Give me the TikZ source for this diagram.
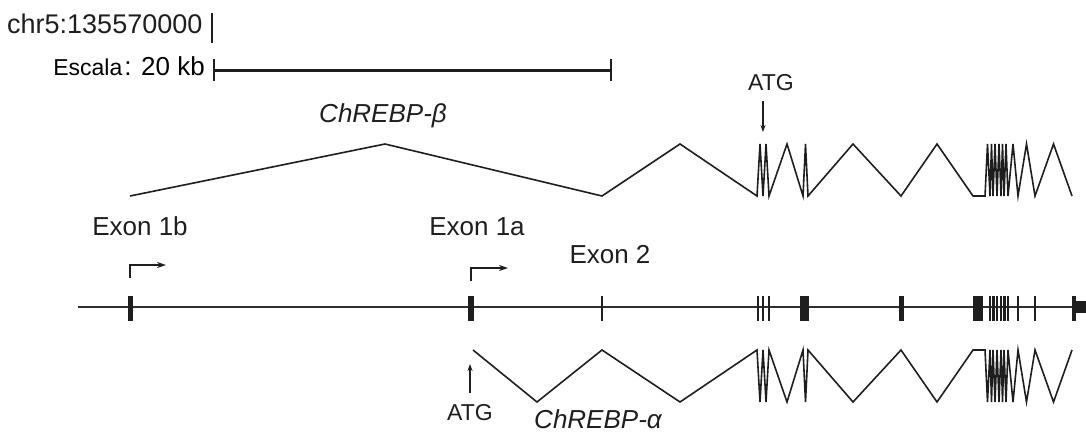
\documentclass[tikz,border=0pt]{standalone}
\usepackage{fontspec}
\setmainfont{Liberation Sans}
\usetikzlibrary{arrows.meta}
\definecolor{ink}{HTML}{1E1E1E}
\definecolor{track}{HTML}{303030}
\begin{document}
\begin{tikzpicture}[x=1pt,y=-1pt,
  lbl/.style={inner sep=0pt, anchor=base, text=ink, font=\fontsize{26}{30}\selectfont},
  small/.style={inner sep=0pt, anchor=base, text=ink, font=\fontsize{23}{27}\selectfont},
  iso/.style={inner sep=0pt, anchor=base, text=ink, font=\fontsize{26}{30}\selectfont\itshape},
  splice/.style={draw=ink, line width=1.6pt, line join=miter},
  backbone/.style={draw=track, line width=1.6pt},
  exon/.style={fill=ink, draw=none},
  thinexon/.style={draw=ink, line width=2pt},
  prom/.style={draw=ink, line width=2pt, -{Stealth[length=9pt,width=6pt]}},
  atgarrow/.style={draw=ink, line width=1.6pt, -{Stealth[length=7pt,width=5pt]}},
]
\useasboundingbox (0,0) rectangle (1086,432);

% genomic position and scale bar
\node[lbl, anchor=base west, font=\fontsize{27}{31}\selectfont] (chr) at (7,33) {chr5:135570000};
\draw[draw=ink, line width=2pt] (212,13) -- (212,43);
\node[inner sep=0pt, anchor=base east, text=black] (scale) at (205,75)
  {{\fontsize{23}{27}\selectfont Escala}\hspace{2pt}{\fontsize{26}{30}\selectfont : 20 kb}};
\coordinate (sbl) at (214,70);
\coordinate (sbr) at (611,70);
\draw[draw=ink, line width=3pt] (sbl) -- (sbr);
\draw[draw=ink, line width=2.5pt] (214,59) -- (214,81) (611,59) -- (611,81);

% ChREBP-beta transcript
\node[iso] (beta) at (383,122) {ChREBP-β};
\def\T{144}\def\B{196}
\draw[splice] (130,\B)
  \foreach \x/\y in {385/\T,602/\B,680/\T,757/\B,760/\T,763/\B,766/\T,769/\B,787/\T,
    803/\B,805.5/\T,808/\B,853/\T,901/\B,937/\T,973/\B,985/\B,987.5/\T,990/\B,
    991.5/\T,993/\B,995/\T,997/\B,999/\T,1001/\B,1002.5/\T,1004/\B,1006/\T,1008/\B,
    1013/\T,1018/\B,1026.5/\T,1035/\B,1053.5/\T,1072/\B} { -- (\x,\y) };

\node[small] (atgb) at (771,90) {ATG};
\coordinate (atgbtip) at (763,132);
\draw[atgarrow] (763,101) -- (atgbtip);

% exon labels and promoters
\node[lbl] (e1b) at (140,235) {Exon 1b};
\node[lbl] (e1a) at (477,235) {Exon 1a};
\node[lbl] (e2) at (610,263) {Exon 2};
\draw[prom] (130,278) |- (166,265);
\draw[prom] (471,281) |- (508,268);

% genomic backbone with exons
\draw[backbone] (78,307) -- (1086,307);
\def\et{296}\def\eb{321}
\fill[exon] (128,\et) rectangle (133,\eb);
\fill[exon] (468,\et) rectangle (474,\eb);
\draw[draw=ink, line width=1.5pt] (602,\et) -- (602,\eb);
\foreach \x in {758,763,769} \draw[thinexon] (\x,\et) -- (\x,\eb);
\fill[exon] (800,\et) rectangle (809,\eb);
\fill[exon] (899,\et) rectangle (903.5,\eb);
\fill[exon] (973,\et) rectangle (983,\eb);
\foreach \x in {990,993.5,997,1001,1004.5,1008} \draw[draw=ink, line width=2.2pt] (\x,\et) -- (\x,\eb);
\draw[draw=ink, line width=1.5pt] (1018,\et) -- (1018,\eb);
\draw[draw=ink, line width=2.5pt] (1035,\et) -- (1035,\eb);
\fill[exon] (1072,\et) rectangle (1076,\eb);
\fill[exon] (1076,301) rectangle (1086,313);

% ChREBP-alpha transcript
\def\t{350}\def\b{402}
\draw[splice] (473,\t)
  \foreach \x/\y in {537/\b,602/\t,680/\b,757/\t,760/\b,763/\t,766/\b,769/\t,787/\b,
    803/\t,805.5/\b,808/\t,853/\b,901/\t,937/\b,973/\t,985/\t,987.5/\b,990/\t,
    991.5/\b,993/\t,995/\b,997/\t,999/\b,1001/\t,1002.5/\b,1004/\t,1006/\b,1008/\t,
    1013/\b,1018/\t,1026.5/\b,1035/\t,1053.5/\b,1072/\t} { -- (\x,\y) };

\node[small] (atga) at (470,420) {ATG};
\coordinate (atgatip) at (470,364);
\draw[atgarrow] (470,393) -- (atgatip);
\node[iso] (alpha) at (598,428) {ChREBP-α};
\end{tikzpicture}
\end{document}
